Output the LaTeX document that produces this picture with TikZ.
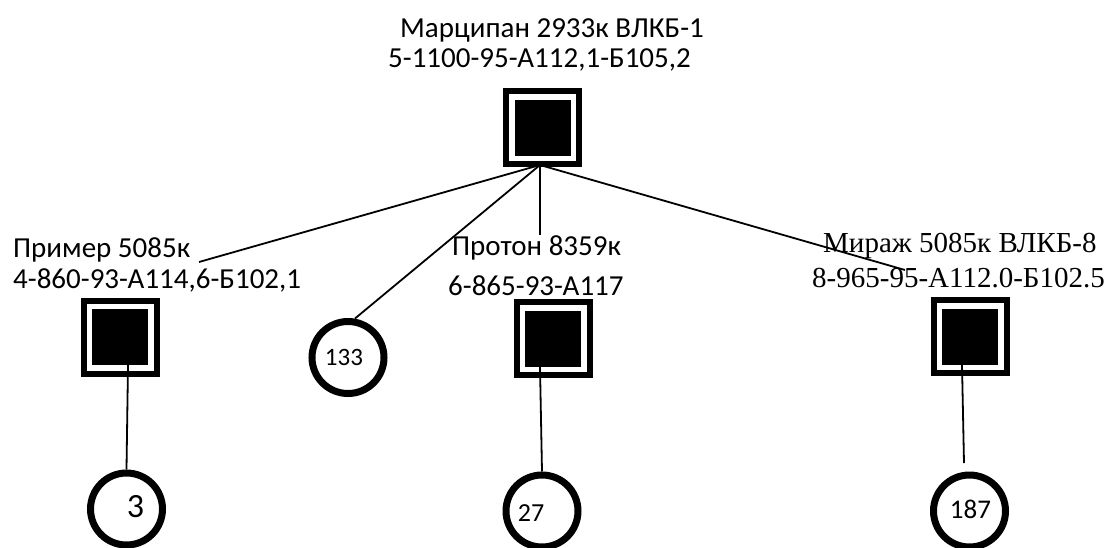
\documentclass[tikz,border=0pt]{standalone}
\usepackage{fontspec}
\setmainfont{Carlito}
\newfontfamily\serifface{Liberation Serif}
\begin{document}
\begin{tikzpicture}[x=1pt,y=-1pt,
  txt/.style={inner sep=0pt, anchor=base west, font=\fontsize{29}{35}\selectfont},
  serif/.style={inner sep=0pt, anchor=base west, font=\serifface\fontsize{29}{35}\selectfont},
  unit/.style={draw, line width=6pt, minimum size=73pt, inner sep=0pt, fill=white,
    path picture={\fill[black] ([shift={(-28pt,-28pt)}]path picture bounding box.center) rectangle ++(56pt,56pt);}},
  ring/.style={circle, draw, line width=7pt, minimum size=72pt, inner sep=0pt, fill=white},
  link/.style={line width=1.8pt}]
\useasboundingbox[fill=white] (0,0) rectangle (1114,547);

% labels
\node[txt] (t1) at (400,37) {Марципан 2933к ВЛКБ-1};
\node[txt] (t2) at (388,67) {5-1100-95-А112,1-Б105,2};
\node[txt] (a1) at (13,257) {Пример 5085к};
\node[txt] (a2) at (13,288) {4-860-93-А114,6-Б102,1};
\node[txt] (b1) at (452,255) {Протон 8359к};
\node[txt] (b2) at (448,295) {6-865-93-А117};

% units
\node[unit] (top) at (542.5,127.5) {};
\node[unit] (sqA) at (120,337) {};
\node[unit] (sqB) at (553,338.5) {};
\node[unit] (sqC) at (970,336.5) {};

% rings
\node[ring, label={[font=\fontsize{34}{40}\selectfont, xshift=9pt, yshift=2pt]center:3}] (c3) at (126.5,509) {};
\node[ring, label={[font=\fontsize{25}{30}\selectfont, xshift=-4pt]center:133}] (c133) at (348,357.5) {};
\node[ring, label={[font=\fontsize{26}{31}\selectfont, xshift=-11pt, yshift=-2pt]center:27}] (c27) at (542,511) {};
\node[ring, label={[font=\fontsize{27}{32}\selectfont, xshift=1pt, yshift=2pt]center:187}] (c187) at (969.5,511) {};

% free ends of the upper links
\coordinate (aEnd) at (199,262);
\coordinate (bEnd) at (540,235);
\coordinate (cEnd) at (905,270);
\coordinate (hub) at ([xshift=-2.5pt,yshift=2pt]top.south);

\draw[link] (hub) -- (aEnd);
\draw[link] (hub) -- (c133.80);
\draw[link] (hub) -- (bEnd);

% serif label drawn before its crossing link
\node[serif] (m1) at (823,252) {Мираж 5085к ВЛКБ-8};
\node[serif] (m2) at (812,287) {8-965-95-А112.0-Б102.5};
\draw[link] (hub) -- (cEnd);

% lower links
\draw[link] ([xshift=8pt,yshift=-28pt]sqA.center) -- (c3.north);
\draw[link] ([xshift=-13pt,yshift=-28pt]sqB.center) -- (c27.north);
\draw[link] ([xshift=-8pt,yshift=-28pt]sqC.center) -- ([xshift=-5.5pt,yshift=8.5pt]c187.north);
\end{tikzpicture}
\end{document}
